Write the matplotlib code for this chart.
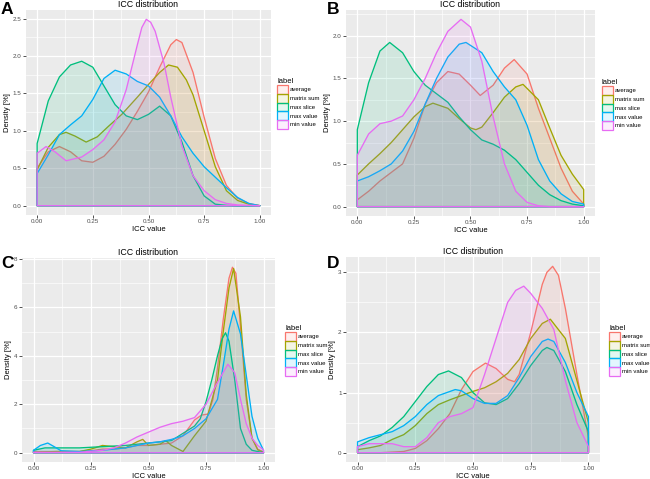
import matplotlib
matplotlib.use("Agg")
import matplotlib.pyplot as plt
from matplotlib.patches import Patch
from matplotlib.ticker import MultipleLocator, FormatStrFormatter

plt.rcParams["font.family"] = ["Liberation Sans", "DejaVu Sans"]

labels = ["average", "matrix sum", "max slice", "max value", "min value"]
colors = ["#F8766D", "#A3A500", "#00BF7D", "#00B0F6", "#E76BF3"]

# ---------------- Panel A ----------------
A_avg_x = [0, 0.05, 0.1, 0.15, 0.2, 0.25, 0.3, 0.35, 0.4, 0.45, 0.5, 0.55, 0.6, 0.625, 0.65, 0.7, 0.75, 0.8, 0.85, 0.9, 0.95, 1.0]
A_avg_y = [0.5, 0.72, 0.79, 0.72, 0.6, 0.58, 0.66, 0.82, 1.02, 1.26, 1.52, 1.85, 2.15, 2.22, 2.18, 1.78, 1.18, 0.63, 0.27, 0.1, 0.03, 0.0]
A_mat_x = [0, 0.05, 0.1, 0.13, 0.17, 0.22, 0.27, 0.32, 0.38, 0.45, 0.5, 0.55, 0.59, 0.63, 0.67, 0.7, 0.75, 0.8, 0.85, 0.9, 0.95, 1.0]
A_mat_y = [0.48, 0.78, 0.95, 0.98, 0.93, 0.85, 0.92, 1.06, 1.22, 1.45, 1.62, 1.78, 1.88, 1.85, 1.68, 1.48, 1.0, 0.52, 0.2, 0.07, 0.02, 0.0]
A_sli_x = [0, 0.05, 0.1, 0.15, 0.2, 0.25, 0.3, 0.35, 0.4, 0.45, 0.5, 0.55, 0.6, 0.65, 0.7, 0.75, 0.8, 0.85, 0.9, 1.0]
A_sli_y = [0.83, 1.4, 1.72, 1.88, 1.93, 1.85, 1.6, 1.35, 1.2, 1.15, 1.22, 1.33, 1.2, 0.85, 0.4, 0.13, 0.02, 0.005, 0.0, 0.0]
A_val_x = [0, 0.05, 0.1, 0.15, 0.2, 0.25, 0.3, 0.35, 0.4, 0.45, 0.5, 0.55, 0.6, 0.65, 0.7, 0.75, 0.8, 0.85, 0.9, 0.95, 1.0]
A_val_y = [0.43, 0.68, 0.95, 1.08, 1.2, 1.42, 1.7, 1.81, 1.76, 1.66, 1.6, 1.45, 1.2, 0.92, 0.7, 0.52, 0.38, 0.24, 0.11, 0.03, 0.0]
A_min_x = [0, 0.04, 0.08, 0.13, 0.2, 0.25, 0.3, 0.35, 0.4, 0.45, 0.47, 0.49, 0.51, 0.53, 0.57, 0.6, 0.65, 0.7, 0.75, 0.8, 0.85, 0.9, 1.0]
A_min_y = [0.7, 0.79, 0.72, 0.6, 0.65, 0.75, 0.88, 1.12, 1.55, 2.15, 2.38, 2.49, 2.45, 2.33, 1.9, 1.45, 0.8, 0.4, 0.2, 0.08, 0.03, 0.01, 0.0]

# ---------------- Panel B ----------------
B_avg_x = [0, 0.05, 0.1, 0.15, 0.2, 0.25, 0.3, 0.35, 0.4, 0.45, 0.5, 0.543, 0.6, 0.65, 0.693, 0.75, 0.8, 0.85, 0.9, 0.95, 1.0]
B_avg_y = [0.08, 0.18, 0.3, 0.4, 0.5, 0.8, 1.2, 1.45, 1.58, 1.55, 1.42, 1.3, 1.42, 1.62, 1.72, 1.55, 1.15, 0.8, 0.45, 0.18, 0.03]
B_mat_x = [0, 0.05, 0.1, 0.15, 0.2, 0.25, 0.3, 0.334, 0.4, 0.45, 0.5, 0.524, 0.55, 0.6, 0.65, 0.7, 0.732, 0.8, 0.85, 0.9, 0.95, 1.0]
B_mat_y = [0.37, 0.5, 0.62, 0.75, 0.9, 1.05, 1.17, 1.21, 1.15, 1.03, 0.92, 0.9, 0.93, 1.1, 1.28, 1.4, 1.43, 1.25, 0.92, 0.6, 0.38, 0.2]
B_sli_x = [0, 0.05, 0.1, 0.143, 0.2, 0.25, 0.3, 0.35, 0.4, 0.45, 0.5, 0.55, 0.6, 0.65, 0.7, 0.75, 0.8, 0.85, 0.9, 0.95, 1.0]
B_sli_y = [0.9, 1.45, 1.82, 1.92, 1.8, 1.58, 1.42, 1.32, 1.22, 1.05, 0.9, 0.78, 0.73, 0.66, 0.55, 0.4, 0.25, 0.14, 0.07, 0.03, 0.01]
B_val_x = [0, 0.05, 0.1, 0.15, 0.2, 0.25, 0.3, 0.35, 0.4, 0.45, 0.48, 0.55, 0.6, 0.65, 0.7, 0.75, 0.8, 0.85, 0.9, 0.95, 1.0]
B_val_y = [0.3, 0.35, 0.42, 0.5, 0.65, 0.88, 1.2, 1.5, 1.75, 1.9, 1.92, 1.8, 1.58, 1.4, 1.25, 0.95, 0.55, 0.3, 0.15, 0.06, 0.03]
B_min_x = [0, 0.05, 0.1, 0.15, 0.2, 0.25, 0.3, 0.35, 0.4, 0.458, 0.5, 0.55, 0.6, 0.65, 0.7, 0.75, 0.8, 0.85, 1.0]
B_min_y = [0.6, 0.85, 0.97, 1.0, 1.06, 1.25, 1.5, 1.8, 2.05, 2.19, 2.1, 1.7, 1.05, 0.5, 0.18, 0.05, 0.01, 0.0, 0.0]

# ---------------- Panel C ----------------
C_avg_x = [0, 0.1, 0.2, 0.25, 0.3, 0.35, 0.4, 0.45, 0.5, 0.55, 0.6, 0.65, 0.7, 0.73, 0.76, 0.78, 0.8, 0.825, 0.85, 0.865, 0.88, 0.9, 0.925, 0.95, 0.975, 1.0]
C_avg_y = [0.05, 0.05, 0.05, 0.08, 0.15, 0.15, 0.2, 0.3, 0.3, 0.35, 0.4, 0.7, 1.35, 1.55, 1.6, 2.2, 3.5, 5.5, 7.2, 7.65, 7.4, 5.2, 2.2, 0.6, 0.15, 0.03]
C_mat_x = [0, 0.1, 0.2, 0.25, 0.3, 0.35, 0.4, 0.45, 0.475, 0.5, 0.55, 0.575, 0.6, 0.65, 0.7, 0.75, 0.8, 0.825, 0.85, 0.87, 0.9, 0.925, 0.95, 0.975, 1.0]
C_mat_y = [0.02, 0.05, 0.05, 0.15, 0.3, 0.25, 0.2, 0.45, 0.55, 0.3, 0.35, 0.5, 0.3, 0.05, 0.7, 1.3, 3.0, 5.0, 6.8, 7.6, 5.6, 2.4, 0.6, 0.12, 0.02]
C_sli_x = [0, 0.05, 0.1, 0.2, 0.3, 0.4, 0.5, 0.55, 0.6, 0.65, 0.7, 0.725, 0.75, 0.775, 0.8, 0.82, 0.835, 0.85, 0.875, 0.9, 0.925, 0.95, 1.0]
C_sli_y = [0.1, 0.2, 0.2, 0.2, 0.25, 0.3, 0.4, 0.45, 0.5, 0.8, 1.1, 1.4, 2.1, 3.0, 4.0, 4.7, 4.95, 4.6, 3.0, 1.0, 0.35, 0.1, 0.0]
C_val_x = [0, 0.03, 0.062, 0.09, 0.12, 0.2, 0.3, 0.4, 0.5, 0.55, 0.6, 0.65, 0.7, 0.75, 0.8, 0.825, 0.85, 0.87, 0.9, 0.925, 0.95, 0.975, 1.0]
C_val_y = [0.1, 0.3, 0.4, 0.25, 0.08, 0.05, 0.1, 0.2, 0.4, 0.45, 0.55, 0.7, 1.0, 1.4, 2.2, 3.6, 5.1, 5.85, 4.9, 3.2, 1.5, 0.6, 0.1]
C_min_x = [0, 0.1, 0.2, 0.3, 0.35, 0.4, 0.45, 0.5, 0.55, 0.6, 0.65, 0.7, 0.75, 0.8, 0.845, 0.875, 0.9, 0.925, 0.95, 0.975, 1.0]
C_min_y = [0.02, 0.02, 0.02, 0.1, 0.2, 0.4, 0.65, 0.85, 1.05, 1.2, 1.3, 1.45, 2.0, 2.9, 3.65, 3.3, 2.2, 1.2, 0.6, 0.3, 0.12]

# ---------------- Panel D ----------------
D_avg_x = [0, 0.1, 0.2, 0.25, 0.3, 0.35, 0.4, 0.45, 0.5, 0.554, 0.6, 0.65, 0.68, 0.7, 0.75, 0.8, 0.82, 0.845, 0.87, 0.9, 0.95, 1.0]
D_avg_y = [0.0, 0.0, 0.02, 0.07, 0.2, 0.4, 0.65, 1.05, 1.35, 1.49, 1.4, 1.22, 1.18, 1.3, 2.0, 2.8, 3.0, 3.1, 2.95, 2.4, 1.3, 0.25]
D_mat_x = [0, 0.05, 0.1, 0.15, 0.2, 0.25, 0.3, 0.35, 0.4, 0.45, 0.5, 0.55, 0.6, 0.65, 0.7, 0.75, 0.8, 0.835, 0.9, 0.95, 1.0]
D_mat_y = [0.05, 0.08, 0.12, 0.22, 0.3, 0.45, 0.65, 0.8, 0.88, 0.95, 1.02, 1.08, 1.18, 1.32, 1.55, 1.9, 2.15, 2.22, 1.9, 1.2, 0.5]
D_sli_x = [0, 0.05, 0.1, 0.15, 0.2, 0.25, 0.3, 0.35, 0.394, 0.45, 0.5, 0.55, 0.6, 0.65, 0.7, 0.75, 0.8, 0.82, 0.85, 0.9, 0.95, 1.0]
D_sli_y = [0.1, 0.2, 0.28, 0.42, 0.6, 0.85, 1.1, 1.3, 1.36, 1.25, 1.0, 0.83, 0.8, 0.9, 1.15, 1.45, 1.7, 1.75, 1.7, 1.35, 0.8, 0.35]
D_val_x = [0, 0.05, 0.1, 0.15, 0.2, 0.25, 0.3, 0.35, 0.423, 0.45, 0.5, 0.55, 0.6, 0.65, 0.7, 0.75, 0.8, 0.825, 0.85, 0.9, 0.95, 1.0]
D_val_y = [0.18, 0.25, 0.3, 0.35, 0.45, 0.6, 0.8, 0.95, 1.05, 1.03, 0.9, 0.82, 0.82, 0.95, 1.25, 1.6, 1.85, 1.89, 1.85, 1.5, 1.0, 0.6]
D_min_x = [0, 0.05, 0.1, 0.15, 0.2, 0.25, 0.3, 0.35, 0.4, 0.45, 0.5, 0.55, 0.6, 0.65, 0.685, 0.72, 0.75, 0.8, 0.85, 0.9, 0.95, 1.0]
D_min_y = [0.1, 0.15, 0.15, 0.15, 0.1, 0.1, 0.25, 0.5, 0.6, 0.65, 0.75, 1.3, 1.9, 2.5, 2.7, 2.77, 2.65, 2.4, 2.05, 1.2, 0.5, 0.1]

x_ticks = [0.0, 0.25, 0.5, 0.75, 1.0]
x_ticklabels = ["0.00", "0.25", "0.50", "0.75", "1.00"]

panels = [
    dict(letter="A", rect=[26, 10, 271, 215], legend=(277, 78), letter_pos=(1, 2),
         series=[(A_avg_x, A_avg_y), (A_mat_x, A_mat_y), (A_sli_x, A_sli_y), (A_val_x, A_val_y), (A_min_x, A_min_y)],
         ymajor=0.5, yfmt="%.1f"),
    dict(letter="B", rect=[346, 10, 595, 216], legend=(602, 79), letter_pos=(327, 2),
         series=[(B_avg_x, B_avg_y), (B_mat_x, B_mat_y), (B_sli_x, B_sli_y), (B_val_x, B_val_y), (B_min_x, B_min_y)],
         ymajor=0.5, yfmt="%.1f"),
    dict(letter="C", rect=[22, 258, 275, 462], legend=(285, 325), letter_pos=(1, 256),
         series=[(C_avg_x, C_avg_y), (C_mat_x, C_mat_y), (C_sli_x, C_sli_y), (C_val_x, C_val_y), (C_min_x, C_min_y)],
         ymajor=2, yfmt="%d"),
    dict(letter="D", rect=[346, 257, 600, 462], legend=(609, 325), letter_pos=(327, 256),
         series=[(D_avg_x, D_avg_y), (D_mat_x, D_mat_y), (D_sli_x, D_sli_y), (D_val_x, D_val_y), (D_min_x, D_min_y)],
         ymajor=1, yfmt="%d"),
]

W, H = 650, 479
fig = plt.figure(figsize=(W / 100, H / 100), dpi=100)
fig.patch.set_facecolor("white")

ALPHA = 0.11
for p in panels:
    l, t, r, b = p["rect"]
    ax = fig.add_axes([l / W, 1 - b / H, (r - l) / W, (b - t) / H])
    ax.set_facecolor("#EBEBEB")
    for s in ax.spines.values():
        s.set_visible(False)
    ymax = 0
    for (xs, ys), c in zip(p["series"], colors):
        px = [xs[0]] + list(xs) + [xs[-1]]
        py = [0] + list(ys) + [0]
        ax.fill(px, py, facecolor=matplotlib.colors.to_rgba(c, ALPHA),
                edgecolor=c, linewidth=0.95, joinstyle="round")
        ymax = max(ymax, max(ys))
    ax.set_xlim(-0.05, 1.05)
    ax.set_ylim(-0.05 * ymax, 1.05 * ymax)
    ax.set_xticks(x_ticks)
    ax.set_xticklabels(x_ticklabels)
    ax.xaxis.set_minor_locator(MultipleLocator(0.125))
    ax.yaxis.set_major_locator(MultipleLocator(p["ymajor"]))
    ax.yaxis.set_minor_locator(MultipleLocator(p["ymajor"] / 2))
    ax.yaxis.set_major_formatter(FormatStrFormatter(p["yfmt"]))
    ax.grid(which="major", color="white", linewidth=0.9)
    ax.grid(which="minor", color="white", linewidth=0.45)
    ax.set_axisbelow(True)
    ax.tick_params(which="major", length=2, width=0.6, color="#333333",
                   labelsize=4.5, labelcolor="#4D4D4D", pad=1.2)
    ax.tick_params(which="minor", length=0)
    ax.set_xlabel("ICC value", fontsize=5.5, labelpad=1)
    ax.set_ylabel("Density [%]", fontsize=5.5, labelpad=1.5)
    ax.set_title("ICC distribution", fontsize=6.3, pad=2.5)

    handles = [Patch(facecolor=matplotlib.colors.to_rgba(c, ALPHA), edgecolor=c, linewidth=0.9)
               for c in colors]
    lx, ly = p["legend"]
    leg = fig.legend(handles, labels, title="label", loc="upper left",
                     bbox_to_anchor=(lx / W, 1 - ly / H), frameon=False,
                     fontsize=4.3, title_fontsize=5.4, handlelength=1.85, handleheight=1.85,
                     labelspacing=0.02, handletextpad=0.3, borderpad=0, borderaxespad=0)
    leg._legend_box.align = "left"

    lx0, ly0 = p["letter_pos"]
    fig.text(lx0 / W, 1 - ly0 / H, p["letter"], fontsize=12.5, fontweight="bold",
             ha="left", va="top")

fig.savefig("out.png", dpi=100, facecolor="white")
